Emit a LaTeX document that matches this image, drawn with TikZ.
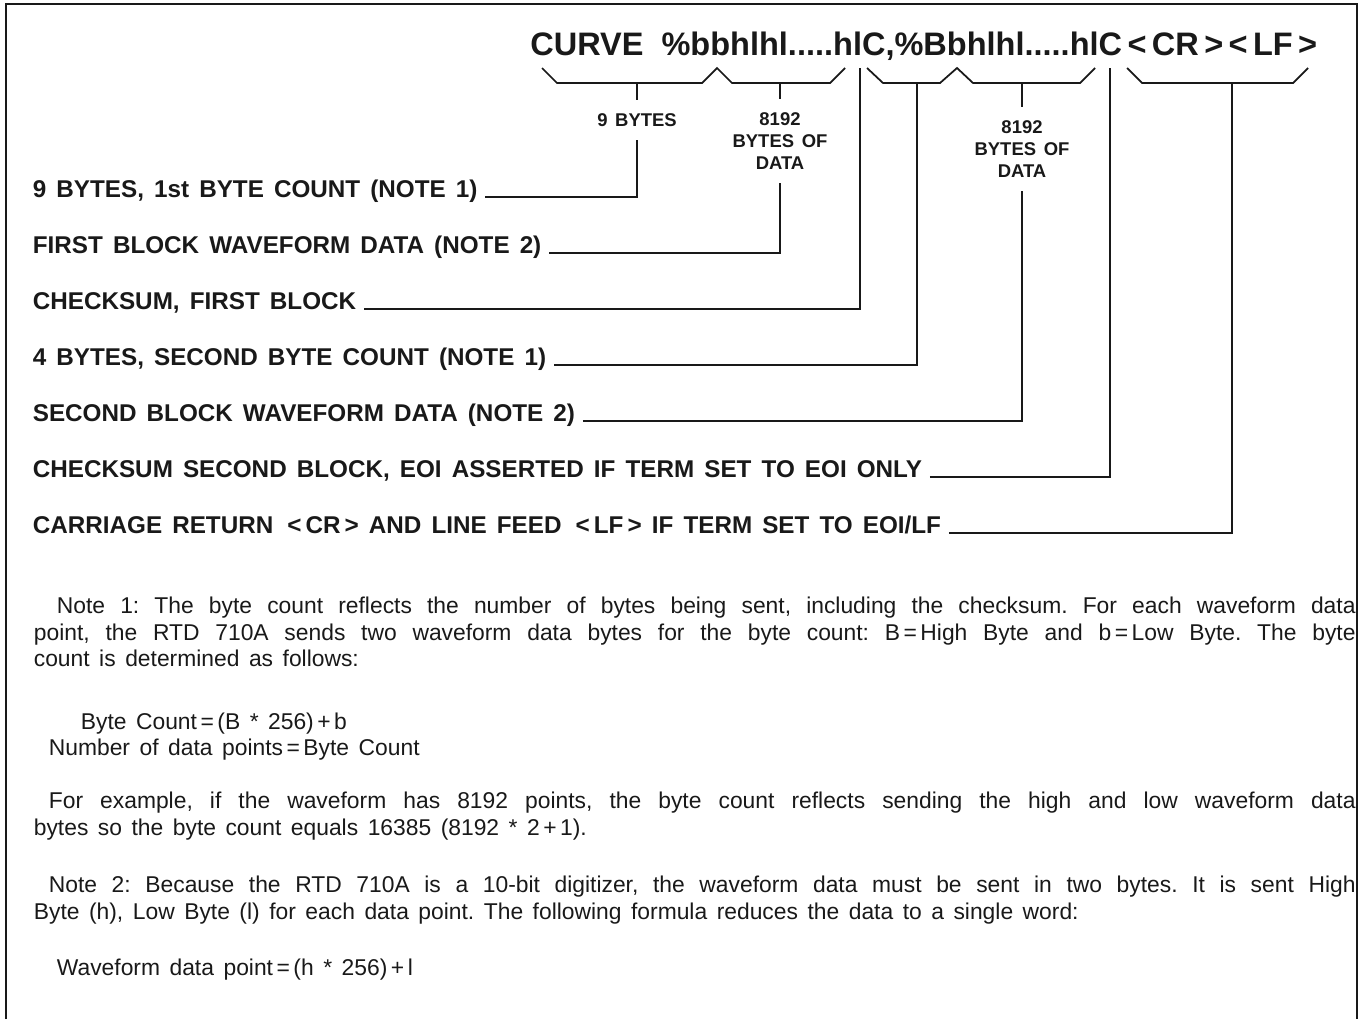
\documentclass[tikz,border=0pt]{standalone}
\usepackage{fontspec}
\setmainfont{Liberation Sans}
\newfontfamily\lblfont[WordSpace=1.7]{Liberation Sans}
\newfontfamily\notefont[WordSpace=1.5]{Liberation Sans}
\usepackage{tikz}
\usetikzlibrary{positioning}
\definecolor{ink}{RGB}{25,25,25}
\newcommand\eqs{\hspace{2pt}=\hspace{2pt}}
\newcommand\pls{\hspace{2pt}+\hspace{2pt}}

\begin{document}
\begin{tikzpicture}[x=0.02cm, y=-0.02cm, line width=1pt, draw=ink,
  every node/.style={inner sep=0pt, text=ink},
  lbl/.style={anchor=base west, font=\lblfont\bfseries\fontsize{13.8}{16}\selectfont},
  cnt/.style={align=center, font=\lblfont\bfseries\fontsize{10.5}{12.5}\selectfont, inner ysep=7pt},
  body/.style={anchor=base west, font=\notefont\frenchspacing\fontsize{13}{16}\selectfont},
  lead/.style={shorten <=4pt},
  brk/.style={line join=miter}]
  \useasboundingbox (0,0) rectangle (1361,1019);
  % frame, open at the bottom
  \draw[line width=1.2pt] (6,1019) -- (6,4) -- (1357,4) -- (1357,1019);

  % command string
  \node[anchor=base east, font=\bfseries\fontsize{18.5}{20}\selectfont] (curve) at (1318,55)
    {CURVE \ \%bbhlhl.....hlC,\%Bbhlhl.....hlC\,<\,CR\,>\,<\,LF\,>};

  % brackets under the string
  \draw[brk] (542,68) -- (557,83) -- (702,83) -- (717,68) -- (732,83) -- (830,83) -- (845,68);
  \draw[brk] (867,68) -- (883,83) -- (940,83) -- (957,68) -- (973,83) -- (1080,83) -- (1095,68);
  \draw[brk] (1127,68) -- (1142,83) -- (1293,83) -- (1308,68);
  \coordinate (b1) at (637,83);
  \coordinate (b2) at (780,83);
  \coordinate (c1) at (860,68);
  \coordinate (b3) at (917,83);
  \coordinate (b4) at (1022,83);
  \coordinate (c2) at (1110,68);
  \coordinate (b5) at (1232,83);

  % counts
  \node[cnt] (nine) at (637,120) {9 BYTES};
  \node[cnt] (data1) at (780,141) {8192\\BYTES OF\\DATA};
  \node[cnt] (data2) at (1022,149) {8192\\BYTES OF\\DATA};
  \draw (b1) -- (nine.north);
  \draw (b2) -- (data1.north);
  \draw (b4) -- (data2.north);

  % field labels
  \node[lbl] (l1) at (32,197) {9 BYTES, 1st BYTE COUNT (NOTE 1)};
  \node[lbl] (l2) at (32,253) {FIRST BLOCK WAVEFORM DATA (NOTE 2)};
  \node[lbl] (l3) at (32,309) {CHECKSUM, FIRST BLOCK};
  \node[lbl] (l4) at (32,365) {4 BYTES, SECOND BYTE COUNT (NOTE 1)};
  \node[lbl] (l5) at (32,421) {SECOND BLOCK WAVEFORM DATA (NOTE 2)};
  \node[lbl] (l6) at (32,477) {CHECKSUM SECOND BLOCK, EOI ASSERTED IF TERM SET TO EOI ONLY};
  \node[lbl] (l7) at (32,533) {CARRIAGE RETURN \,<\,CR\,> AND LINE FEED \,<\,LF\,> IF TERM SET TO EOI/LF};
  \draw[lead] (l1.base east) -| (nine.south);
  \draw[lead] (l2.base east) -| (data1.south);
  \draw[lead] (l3.base east) -| (c1);
  \draw[lead] (l4.base east) -| (b3);
  \draw[lead] (l5.base east) -| (data2.south);
  \draw[lead] (l6.base east) -| (c2);
  \draw[lead] (l7.base east) -| (b5);

  % notes
  \node[body] (n1a) at (56,613) {\makebox[25.98cm][s]{Note 1: The byte count reflects the number of bytes being sent, including the checksum. For each waveform data}};
  \node[body] (n1b) at (33,640) {\makebox[26.44cm][s]{point, the RTD 710A sends two waveform data bytes for the byte count: B\eqs High Byte and b\eqs Low Byte. The byte}};
  \node[body] (n1c) at (33,666) {count is determined as follows:};
  \node[body] (f1) at (80,729) {Byte Count\eqs(B * 256)\pls b};
  \node[body] (f2) at (48,755) {Number of data points\eqs Byte Count};
  \node[body] (ex1) at (48,808) {\makebox[26.14cm][s]{For example, if the waveform has 8192 points, the byte count reflects sending the high and low waveform data}};
  \node[body] (ex2) at (33,835) {bytes so the byte count equals 16385 (8192 * 2\pls 1).};
  \node[body] (n2a) at (48,892) {\makebox[26.14cm][s]{Note 2: Because the RTD 710A is a 10-bit digitizer, the waveform data must be sent in two bytes. It is sent High}};
  \node[body] (n2b) at (33,919) {Byte (h), Low Byte (l) for each data point. The following formula reduces the data to a single word:};
  \node[body] (f3) at (56,975) {Waveform data point\eqs(h * 256)\pls l};
\end{tikzpicture}
\end{document}
